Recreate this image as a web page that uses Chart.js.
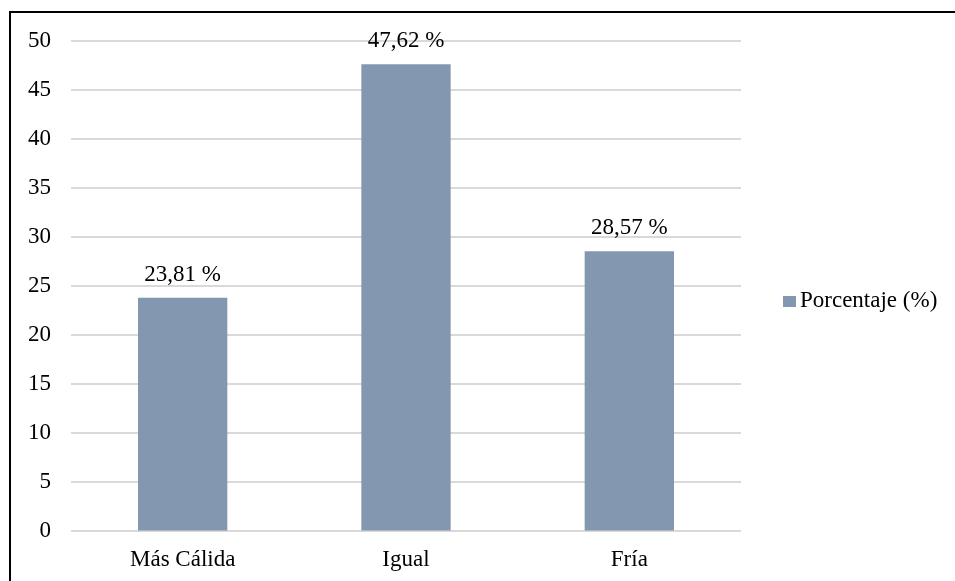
<!DOCTYPE html>
<html>
<head>
<meta charset="utf-8">
<script src="https://cdn.jsdelivr.net/npm/chart.js@4/dist/chart.umd.min.js"></script>
<style>
  html, body { margin: 0; padding: 0; background: #fff; }
  #wrap { position: relative; width: 955px; height: 581px; overflow: hidden; }
  #frame {
    position: absolute; left: 9px; top: 11px; width: 960px; height: 600px;
    border-left: 2px solid #000; border-top: 2px solid #000; box-sizing: border-box;
    pointer-events: none;
  }
  canvas { position: absolute; left: 0; top: 0; }
</style>
</head>
<body>
<div id="wrap">
  <canvas id="chart" width="955" height="581"></canvas>
  <div id="frame"></div>
</div>
<script>
const categories = ['Más Cálida', 'Igual', 'Fría'];
const porcentajes = [23.81, 47.62, 28.57];
const yTicks = [0, 5, 10, 15, 20, 25, 30, 35, 40, 45, 50];
const seriesLabel = 'Porcentaje (%)';

const FONT = { family: '"Liberation Serif", "Times New Roman", serif', size: 23 };
const BAR = '#8497b0';

// value labels above each bar, e.g. "47,62 %"
const valueLabels = {
  id: 'valueLabels',
  afterDatasetsDraw(chart) {
    const ctx = chart.ctx;
    const meta = chart.getDatasetMeta(0);
    ctx.save();
    ctx.font = `${FONT.size}px ${FONT.family}`;
    ctx.fillStyle = '#000';
    ctx.textAlign = 'center';
    ctx.textBaseline = 'alphabetic';
    meta.data.forEach((bar, j) => {
      const txt = porcentajes[j].toFixed(2).replace('.', ',') + ' %';
      ctx.fillText(txt, bar.x, bar.y - 17);
    });
    ctx.restore();
  }
};

// compact legend to the right of the plot: small box, tight gap to the text
const sideLegend = {
  id: 'sideLegend',
  afterDraw(chart) {
    const ctx = chart.ctx;
    const ds = chart.data.datasets[0];
    const area = chart.chartArea;
    const x = area.right + 42;
    const y = 301;
    ctx.save();
    ctx.fillStyle = ds.backgroundColor;
    ctx.fillRect(x, y - 5, 13, 11);
    ctx.font = `${FONT.size}px ${FONT.family}`;
    ctx.fillStyle = '#000';
    ctx.textAlign = 'left';
    ctx.textBaseline = 'middle';
    ctx.fillText(ds.label, x + 17, y);
    ctx.restore();
  }
};

new Chart(document.getElementById('chart'), {
  type: 'bar',
  data: {
    labels: categories,
    datasets: [{
      label: seriesLabel,
      data: porcentajes,
      backgroundColor: BAR,
      borderWidth: 0,
      categoryPercentage: 1,
      barPercentage: 0.4,
    }]
  },
  options: {
    responsive: false,
    animation: false,
    devicePixelRatio: 1,
    layout: { padding: { top: 41, right: 214, bottom: 0, left: 8 } },
    plugins: {
      tooltip: { enabled: false },
      legend: { display: false }
    },
    scales: {
      x: {
        grid: { display: false },
        border: { display: false },
        ticks: { font: FONT, color: '#000', padding: 7 },
      },
      y: {
        min: 0,
        max: 50,
        afterBuildTicks: axis => { axis.ticks = yTicks.map(v => ({ value: v })); },
        grid: { color: '#d9d9d9', lineWidth: 2, drawTicks: false },
        border: { display: false },
        ticks: { font: FONT, color: '#000', padding: 20 },
      }
    }
  },
  plugins: [valueLabels, sideLegend]
});
</script>
</body>
</html>
